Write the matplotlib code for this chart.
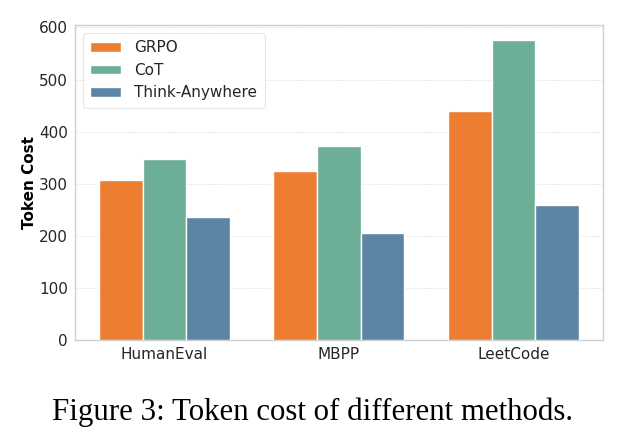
import matplotlib
matplotlib.use("Agg")
import matplotlib.pyplot as plt
import numpy as np

categories = ["HumanEval", "MBPP", "LeetCode"]
methods = ["GRPO", "CoT", "Think-Anywhere"]
grpo = [308, 324, 440]
cot = [348, 372, 576]
think_anywhere = [237, 206, 260]
series = [grpo, cot, think_anywhere]
colors = ["#ED7D31", "#6DAE96", "#5B84A5"]

plt.rcParams["font.family"] = "DejaVu Sans"
fig = plt.figure(figsize=(6.24, 4.45), dpi=100)
ax = fig.add_axes([0.12, 0.236, 0.846, 0.708])

x = np.arange(len(categories))
width = 0.25
for i, (name, vals, c) in enumerate(zip(methods, series, colors)):
    ax.bar(x + (i - 1) * width, vals, width, label=name, color=c,
           edgecolor="white", linewidth=1.0, zorder=3)

ax.set_xticks(x)
ax.set_xticklabels(categories, fontsize=11, color="#262626")
ax.set_yticks([0, 100, 200, 300, 400, 500, 600])
ax.tick_params(axis="y", labelsize=11, colors="#262626", length=0, pad=5)
ax.tick_params(axis="x", length=0, pad=5)
ax.set_ylabel("Token Cost", fontsize=11, fontweight="bold", labelpad=1.5)
ax.grid(axis="y", linestyle="--", color="#e6e6e6", linewidth=0.6, zorder=0)
for s in ax.spines.values():
    s.set_color("#d0d0d0")
    s.set_linewidth(1.0)

leg = ax.legend(loc="upper left", fontsize=11, frameon=True, handlelength=2.0,
                handleheight=0.6, labelspacing=0.5, borderpad=0.5,
                handletextpad=0.9, fancybox=True)
leg.get_frame().set_edgecolor("#e0e0e0")
leg.get_frame().set_linewidth(0.8)
for t in leg.get_texts():
    t.set_color("#262626")

fig.text(0.5, 0.073, "Figure 3: Token cost of different methods.",
         ha="center", va="center", fontsize=22.2, family="Liberation Serif")

fig.savefig("out.png", dpi=100)
